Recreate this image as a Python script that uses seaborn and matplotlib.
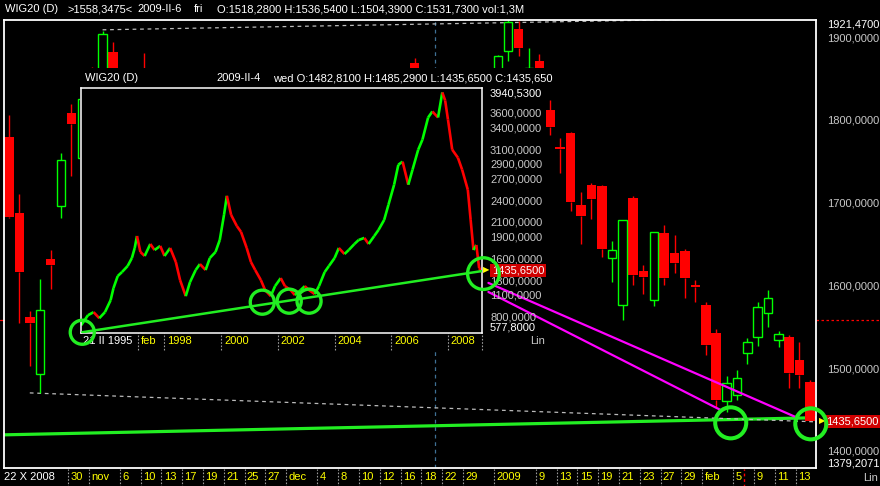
import numpy as np
import pandas as pd
import matplotlib
matplotlib.use('Agg')
import matplotlib.pyplot as plt
import matplotlib.transforms as mtransforms
from matplotlib.collections import LineCollection
from matplotlib.patches import Rectangle
import seaborn as sns

# ---- main chart: WIG20 daily candles ----
holidays = ['2008-11-11', '2008-12-24', '2008-12-25', '2008-12-26', '2009-01-01', '2009-01-02']
days = pd.bdate_range('2008-10-22', '2009-02-16')
days = days[~days.isin(pd.to_datetime(holidays))]

opens = [1779, 1688, 1562, 1493, 1632, 1696, 1808, 1754, 1840, 1815,
         1882, 1790, 1730, 1835, 1780, 1690, 1740, 1700, 1655, 1690,
         1620, 1580, 1640, 1680, 1705, 1700, 1730, 1750, 1680, 1700,
         1690, 1730, 1720, 1800, 1845, 1805, 1810, 1790, 1800, 1869,
         1815, 1795, 1780, 1760, 1745, 1770, 1795, 1845, 1883, 1910,
         1845, 1871, 1812, 1767, 1784, 1697, 1721, 1720, 1633, 1576,
         1706, 1617, 1582, 1663, 1639, 1642, 1601, 1576, 1543, 1460,
         1468, 1518.28, 1538, 1567, 1534, 1537, 1510, 1482.81]
highs = [1806, 1711, 1569, 1608, 1643, 1760, 1819, 1830, 1864, 1907,
         1894, 1810, 1790, 1881, 1790, 1740, 1760, 1710, 1700, 1705,
         1630, 1630, 1700, 1720, 1720, 1745, 1770, 1760, 1710, 1715,
         1750, 1740, 1810, 1830, 1863, 1845, 1820, 1825, 1840, 1875,
         1830, 1805, 1790, 1770, 1775, 1800, 1850, 1878, 1921.47, 1920,
         1887, 1880, 1824, 1778, 1785, 1713, 1724, 1721, 1654, 1679,
         1708, 1625, 1665, 1673, 1661, 1644, 1606, 1580, 1547, 1490,
         1498, 1536.54, 1580, 1595, 1545, 1540, 1531, 1485.29]
lows = [1681, 1555, 1503, 1470, 1596, 1682, 1732, 1745, 1800, 1810,
        1810, 1720, 1720, 1780, 1700, 1660, 1700, 1650, 1640, 1630,
        1565, 1560, 1630, 1660, 1670, 1690, 1720, 1680, 1660, 1665,
        1685, 1690, 1715, 1775, 1800, 1790, 1760, 1770, 1790, 1800,
        1790, 1765, 1750, 1735, 1735, 1765, 1790, 1840, 1871, 1877,
        1835, 1820, 1782, 1736, 1690, 1650, 1680, 1634, 1604, 1558,
        1601, 1590, 1575, 1600, 1615, 1585, 1580, 1516, 1453, 1447,
        1462, 1504.39, 1527, 1550, 1525, 1476, 1476, 1435.65]
closes = [1683, 1616, 1555, 1570, 1625, 1752, 1795, 1825, 1815, 1904,
          1818, 1730, 1780, 1790, 1710, 1730, 1715, 1660, 1690, 1640,
          1580, 1620, 1690, 1710, 1690, 1730, 1760, 1690, 1700, 1680,
          1740, 1700, 1800, 1790, 1810, 1830, 1780, 1810, 1825, 1810,
          1800, 1780, 1760, 1745, 1770, 1790, 1840, 1877, 1918, 1887,
          1863, 1830, 1792, 1765, 1701, 1684, 1705, 1644, 1643, 1679,
          1613, 1610, 1665, 1609, 1627, 1609, 1598, 1528, 1462, 1482,
          1488, 1531.73, 1574, 1585, 1541, 1494, 1492, 1435.65]

price_ticks = [1400, 1500, 1600, 1700, 1800, 1900]
price_min, price_max = 1379.2071, 1921.47
last_price = 1435.65
cursor_price = 1558.3475
cursor_day = '2009-02-06'
marker_day = '2008-12-19'

tick_dates = ['2008-10-30', '2008-11-03', '2008-11-06', '2008-11-10', '2008-11-13',
              '2008-11-17', '2008-11-19', '2008-11-21', '2008-11-25', '2008-11-27',
              '2008-12-01', '2008-12-04', '2008-12-08', '2008-12-10', '2008-12-12',
              '2008-12-16', '2008-12-18', '2008-12-22', '2008-12-29', '2009-01-05',
              '2009-01-09', '2009-01-13', '2009-01-15', '2009-01-19', '2009-01-21',
              '2009-01-23', '2009-01-27', '2009-01-29', '2009-02-02', '2009-02-05',
              '2009-02-09', '2009-02-11', '2009-02-13']
tick_texts = ['30', 'nov', '6', '10', '13', '17', '19', '21', '25', '27', 'dec', '4', '8',
              '10', '12', '16', '18', '22', '29', '2009', '9', '13', '15', '19', '21',
              '23', '27', '29', 'feb', '5', '9', '11', '13']

# trend lines on the main chart (day index, price)
green_trend_x, green_trend_y = [-0.5, 77.6], [1419.3, 1440.0]
upper_dash_x, upper_dash_y = [9.0, 67.4], [1909.0, 1922.0]
lower_dash_x, lower_dash_y = [2.0, 77.6], [1470.0, 1435.0]
magenta_a_x, magenta_a_y = [46.1, 75.8], [1603.0, 1440.0]
magenta_b_x, magenta_b_y = [46.1, 68.4], [1592.0, 1449.5]
main_circle_x, main_circle_y = [69.4, 77.1], [1433.8, 1432.6]

# ---- inset: WIG20 1995-2009 ----
inset_year = [1995.06, 1995.3, 1995.5, 1995.7, 1995.9, 1996.1, 1996.2, 1996.35, 1996.5, 1996.7,
              1996.85, 1996.95, 1997.03, 1997.15, 1997.3, 1997.5, 1997.65, 1997.85, 1998.0, 1998.2,
              1998.4, 1998.55, 1998.75, 1998.9, 1999.1, 1999.25, 1999.45, 1999.6, 1999.8, 1999.95,
              2000.1, 2000.2, 2000.35, 2000.55, 2000.7, 2000.9, 2001.05, 2001.2, 2001.4, 2001.55,
              2001.75, 2001.9, 2002.1, 2002.25, 2002.45, 2002.6, 2002.8, 2002.95, 2003.1, 2003.3,
              2003.45, 2003.65, 2003.8, 2004.0, 2004.15, 2004.35, 2004.5, 2004.7, 2004.85, 2005.05,
              2005.2, 2005.4, 2005.55, 2005.75, 2005.9, 2006.1, 2006.25, 2006.4, 2006.6, 2006.75,
              2006.95, 2007.1, 2007.3, 2007.45, 2007.65, 2007.8, 2007.9, 2008.0, 2008.15, 2008.35,
              2008.5, 2008.7, 2008.8, 2008.9, 2009.0, 2009.1, 2009.15]
inset_price = [680, 818, 860, 777, 860, 1025, 1190, 1356, 1411, 1494,
               1604, 1742, 1907, 1687, 1632, 1797, 1714, 1770, 1632, 1742,
               1549, 1301, 1080, 1273, 1439, 1521, 1439, 1604, 1687, 1852,
               2197, 2459, 2197, 2045, 1963, 1742, 1549, 1439, 1301, 1163,
               1080, 1218, 1328, 1218, 1163, 1094, 1163, 1218, 1163, 1108,
               1218, 1411, 1494, 1604, 1742, 1659, 1714, 1797, 1852, 1880,
               1797, 1907, 1990, 2128, 2335, 2611, 2887, 2928, 2611, 2818,
               3093, 3231, 3535, 3618, 3535, 3880, 3770, 3507, 3093, 2983,
               2818, 2542, 2128, 1714, 1783, 1466, 1435.65]
inset_ticks = [3600, 3400, 3100, 2900, 2700, 2400, 2100, 1900, 1600, 1300, 1100, 800]
inset_min, inset_max = 577.8, 3940.53
inset_xlim = (1995.055, 2009.19)
inset_tick_years = [1997.06, 1998, 2000, 2002, 2004, 2006, 2008]
inset_tick_texts = ['feb', '1998', '2000', '2002', '2004', '2006', '2008']
inset_trend_x, inset_trend_y = [1995.1, 2009.2], [584, 1425]
inset_circle_x = [1995.1, 2001.45, 2002.4, 2003.1, 2009.25]
inset_circle_y = [584, 997, 1011, 1011, 1390]
inset_circle_kind = ['small', 'small', 'small', 'small', 'big']

GREEN = '#00ff00'
RING = '#22ee22'
RED = '#ff0000'
GREY = '#c8c8c8'
YELLOW = '#ffff00'
W, H = 880, 486

sns.set_style('dark', {'axes.facecolor': 'black', 'figure.facecolor': 'black',
                       'axes.edgecolor': 'white', 'axes.grid': False})
plt.rcParams['font.family'] = ['Liberation Sans', 'DejaVu Sans']
plt.rcParams['font.size'] = 8


def fx(x):
    return x / W


def fy(y):
    return 1 - y / H


def fmt(v):
    return f'{v:.4f}'.replace('.', ',')


fig = plt.figure(figsize=(8.8, 4.86), dpi=100)
ax = fig.add_axes([fx(4), fy(468), fx(816) - fx(4), fy(19.5) - fy(468)])
ax.set_facecolor('black')

x = np.arange(len(days))
o, h, l, c = (np.array(v, dtype=float) for v in (opens, highs, lows, closes))
up = c > o
top, bot = np.maximum(o, c), np.minimum(o, c)
cols = np.where(up, GREEN, RED)
ax.vlines(x, top, h, colors=cols, lw=1, zorder=2)
ax.vlines(x, l, bot, colors=cols, lw=1, zorder=2)
ax.bar(x[~up], np.maximum(top - bot, 1.2)[~up], bottom=bot[~up], width=0.92,
       color=RED, lw=0, zorder=2.5)
ax.bar(x[up], (top - bot)[up], bottom=bot[up], width=0.82,
       facecolor='black', edgecolor=GREEN, lw=1, zorder=2.5)

sns.lineplot(x=green_trend_x, y=green_trend_y, ax=ax, color=RING, lw=2.3, zorder=1.5)
sns.lineplot(x=upper_dash_x, y=upper_dash_y, ax=ax, color='#bbbbbb', lw=0.9,
             ls=(0, (3, 3)), zorder=1.5)
sns.lineplot(x=lower_dash_x, y=lower_dash_y, ax=ax, color='#bbbbbb', lw=0.9,
             ls=(0, (3, 3)), zorder=1.5)
ax.axvline(days.get_loc(pd.Timestamp(marker_day)), color='#3f7095', lw=0.9,
           ls=(0, (3, 3)), zorder=1)

ax.set_xlim(-0.48, 77.6)
ax.set_ylim(price_min, price_max)
ax.yaxis.tick_right()
ax.set_yticks(price_ticks)
ax.set_yticklabels([fmt(v) for v in price_ticks])
ax.tick_params(axis='y', length=0, pad=8, labelsize=8, colors=GREY)
ax.set_xticks([])
for s in ax.spines.values():
    s.set_color('white')
    s.set_linewidth(1.3)

# extreme price labels and "Lin"
yb = mtransforms.blended_transform_factory(ax.transAxes, ax.transData)
ax.text(1 + 11 / 812, price_max, fmt(price_max), transform=yb, color='white',
        va='top', ha='left', fontsize=8, clip_on=False)
ax.text(1 + 11 / 812, price_min, fmt(price_min), transform=yb, color='white',
        va='bottom', ha='left', fontsize=8, clip_on=False)
fig.text(fx(878), fy(478), 'Lin', color=GREY, ha='right', va='center', fontsize=8)

# cursor lines
ax.plot([1, 1 + 64 / 812], [cursor_price, cursor_price], transform=yb, color=RED,
        lw=0.9, ls=(0, (2, 2)), clip_on=False)
ax.plot([-4 / 812, 0], [cursor_price, cursor_price], transform=yb, color=RED,
        lw=0.9, clip_on=False)

# date labels under the main chart
xb = mtransforms.blended_transform_factory(ax.transData, ax.transAxes)
tick_pos = days.get_indexer(pd.to_datetime(tick_dates))
ax.vlines(tick_pos - 0.34, -0.042, -0.003, transform=xb, colors='#999999', lw=0.8,
          ls=(0, (1.5, 1.5)), clip_on=False)
for p, t in zip(tick_pos, tick_texts):
    ax.text(p - 0.12, -0.02, t, transform=xb, color=YELLOW, ha='left', va='center',
            fontsize=8, clip_on=False)
ax.text(0.0, -0.02, '22 X 2008', transform=ax.transAxes, color='white', ha='left',
        va='center', fontsize=8, clip_on=False)
cur = days.get_loc(pd.Timestamp(cursor_day))
ax.vlines([cur - 0.3], -0.042, -0.003, transform=xb, colors=RED, lw=1,
          ls=(0, (2, 2)), clip_on=False)

# last price box
ax.text(1 + 10 / 812, last_price, '1435,6500', transform=yb, color='white', ha='left',
        va='center', fontsize=8, clip_on=False, zorder=8,
        bbox=dict(boxstyle='square,pad=0.15', fc='#d00000', ec='none'))
ax.text(1 + 3 / 812, last_price, '\u25b6', transform=yb, color=YELLOW, ha='left',
        va='center', fontsize=6, clip_on=False, zorder=9)

# black panel behind the inset
ax.add_patch(Rectangle((fx(80), fy(350)), fx(546) - fx(80), fy(68) - fy(350),
                       transform=fig.transFigure, facecolor='black', edgecolor='none',
                       zorder=5, clip_on=False))

sns.lineplot(x=magenta_a_x, y=magenta_a_y, ax=ax, color='#ff00ff', lw=1.6, zorder=6)
sns.lineplot(x=magenta_b_x, y=magenta_b_y, ax=ax, color='#ff00ff', lw=1.6, zorder=6)
sns.scatterplot(x=main_circle_x, y=main_circle_y, ax=ax, s=500, marker='o',
                facecolor='none', edgecolor=RING, linewidth=2.9, zorder=10, clip_on=False)

# headers
fig.text(fx(5), fy(9), 'WIG20 (D)', color='white', va='center', fontsize=8)
fig.text(fx(68), fy(9), '>1558,3475<', color='white', va='center', fontsize=8)
fig.text(fx(137), fy(9), '2009-II-6', color='white', va='center', fontsize=8)
fig.text(fx(194), fy(9), 'fri', color='white', va='center', fontsize=8)
fig.text(fx(217), fy(9), 'O:1518,2800 H:1536,5400 L:1504,3900 C:1531,7300 vol:1,3M',
         color='white', va='center', fontsize=8)
fig.text(fx(85), fy(78), 'WIG20 (D)', color='white', va='center', fontsize=8)
fig.text(fx(216), fy(78), '2009-II-4', color='white', va='center', fontsize=8)
fig.text(fx(273), fy(78), 'wed O:1482,8100 H:1485,2900 L:1435,6500 C:1435,650',
         color='white', va='center', fontsize=8)

# ---- inset axes ----
axi = fig.add_axes([fx(81), fy(332.7), fx(481.7) - fx(81), fy(88) - fy(332.7)])
axi.set_facecolor('black')
iy, ip = np.array(inset_year), np.array(inset_price, dtype=float)
pts = np.column_stack([iy, ip])
segs = np.stack([pts[:-1], pts[1:]], axis=1)
seg_cols = np.where(np.diff(ip) >= 0, GREEN, RED)
axi.add_collection(LineCollection(segs, colors=seg_cols, lw=1.9, zorder=2))
sns.lineplot(x=inset_trend_x, y=inset_trend_y, ax=axi, color=RING, lw=1.8, zorder=3)

axi.set_xlim(*inset_xlim)
axi.set_ylim(inset_min, inset_max)
axi.yaxis.tick_right()
axi.set_yticks(inset_ticks)
axi.set_yticklabels([fmt(v) for v in inset_ticks])
axi.tick_params(axis='y', length=0, pad=6, labelsize=8, colors=GREY)
axi.set_xticks([])
for s in axi.spines.values():
    s.set_color('white')
    s.set_linewidth(1.1)

iyb = mtransforms.blended_transform_factory(axi.transAxes, axi.transData)
axi.text(1 + 8 / 401, inset_max, fmt(inset_max), transform=iyb, color='white',
         va='top', ha='left', fontsize=8, clip_on=False)
axi.text(1 + 8 / 401, inset_min, fmt(inset_min), transform=iyb, color='white',
         va='bottom', ha='left', fontsize=8, clip_on=False)
fig.text(fx(545), fy(341), 'Lin', color=GREY, ha='right', va='center', fontsize=8)

ixb = mtransforms.blended_transform_factory(axi.transData, axi.transAxes)
axi.vlines(inset_tick_years + [inset_xlim[1]], -0.07, -0.003, transform=ixb,
           colors='#999999', lw=0.8, ls=(0, (1.5, 1.5)), clip_on=False)
for yr, t in zip(inset_tick_years, inset_tick_texts):
    axi.text(yr + 0.1, -0.034, t, transform=ixb, color=YELLOW, ha='left', va='center',
             fontsize=8, clip_on=False)
axi.text(0.005, -0.034, '21 II 1995', transform=axi.transAxes, color='white',
         ha='left', va='center', fontsize=8, clip_on=False)

axi.text(1 + 10 / 401, last_price, '1435,6500', transform=iyb, color='white', ha='left',
         va='center', fontsize=8, clip_on=False, zorder=8,
         bbox=dict(boxstyle='square,pad=0.15', fc='#d00000', ec='none'))
axi.text(1 + 1 / 401, last_price, '\u25b6', transform=iyb, color=YELLOW, ha='left',
         va='center', fontsize=6, clip_on=False, zorder=9)

sns.scatterplot(x=inset_circle_x, y=inset_circle_y, size=inset_circle_kind,
                sizes={'small': 300, 'big': 520}, legend=False, ax=axi, marker='o',
                facecolor='none', edgecolor=RING, linewidth=2.4, zorder=10, clip_on=False)

fig.savefig('out.png', dpi=100, facecolor='black')
